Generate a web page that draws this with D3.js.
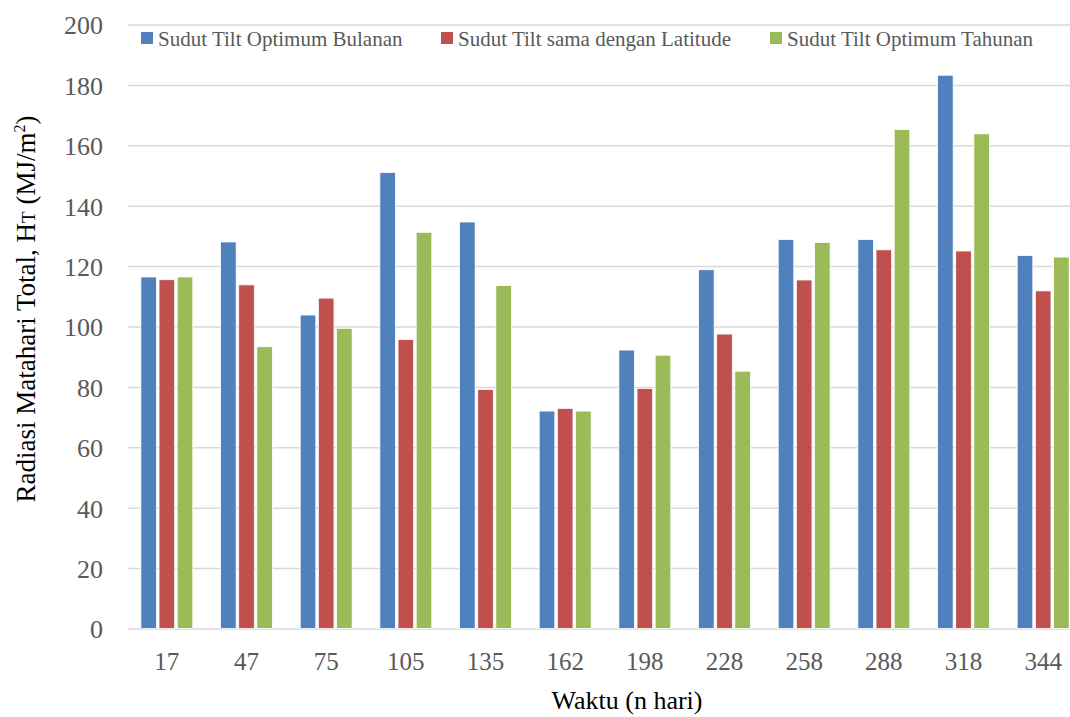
<!DOCTYPE html>
<html>
<head>
<meta charset="utf-8">
<script src="https://cdn.jsdelivr.net/npm/d3@7"></script>
<style>
  html, body { margin: 0; padding: 0; background: #fff; }
  svg { display: block; }
</style>
</head>
<body>
<svg id="chart" width="1070" height="717"></svg>
<script>
// Day-of-year categories (n)
const categories = ["17", "47", "75", "105", "135", "162", "198", "228", "258", "288", "318", "344"];

// Series names
const seriesNames = [
  "Sudut Tilt Optimum Bulanan",
  "Sudut Tilt sama dengan Latitude",
  "Sudut Tilt Optimum Tahunan"
];

// Total solar radiation H_T (MJ/m²) per series
const bulanan  = [116.4, 128.0, 103.8, 151.0, 134.6, 72.0, 92.2, 118.8, 128.8, 128.8, 183.2, 123.5];
const latitude = [115.5, 113.8, 109.4, 95.7, 79.1, 72.9, 79.5, 97.5, 115.4, 125.4, 125.0, 111.8];
const tahunan  = [116.4, 93.3, 99.4, 131.2, 113.6, 72.0, 90.5, 85.2, 127.8, 165.2, 163.8, 123.0];

const yTicks = [0, 20, 40, 60, 80, 100, 120, 140, 160, 180, 200];
const colors = ["#4f81bd", "#c0504d", "#9bbb59"];

const seriesValues = [bulanan, latitude, tahunan];

const svg = d3.select("#chart");
const serif = "'Liberation Serif', 'Times New Roman', serif";

const y = d3.scaleLinear().domain([0, 200]).range([628.5, 24.5]);

const x0 = d3.scaleBand()
  .domain(categories)
  .range([127, 1083])
  .paddingInner(0.348)
  .paddingOuter(0.174);

const x1 = d3.scaleBand()
  .domain(d3.range(seriesNames.length))
  .range([0, x0.bandwidth()])
  .paddingInner(0.14);

// Gridlines and y tick labels
const yAxis = d3.axisLeft(y)
  .tickValues(yTicks)
  .tickSize(-(1070 - 128))
  .tickPadding(25)
  .tickFormat(d3.format("d"));

const gy = svg.append("g")
  .attr("transform", "translate(128,0)")
  .call(yAxis);
gy.select(".domain").remove();
gy.selectAll(".tick line")
  .attr("stroke", "#d9d9d9")
  .attr("stroke-width", 1.5);
gy.selectAll(".tick text")
  .attr("fill", "#595959")
  .attr("font-family", serif)
  .attr("font-size", "26px")
  .attr("dy", "0.36em");

// Bars
const groups = svg.append("g")
  .selectAll("g")
  .data(categories)
  .join("g")
  .attr("transform", d => `translate(${x0(d)},0)`);

groups.selectAll("rect")
  .data((d, i) => seriesValues.map((vals, s) => ({ s, v: vals[i] })))
  .join("rect")
  .attr("x", d => x1(d.s))
  .attr("width", x1.bandwidth())
  .attr("y", d => y(d.v))
  .attr("height", d => y(0) - y(d.v))
  .attr("fill", d => colors[d.s])
  .attr("stroke", "#ffffff")
  .attr("stroke-width", 0.8);

// X axis labels
const xAxis = d3.axisBottom(x0).tickSize(0).tickPadding(0);
const gx = svg.append("g")
  .attr("transform", "translate(0,670)")
  .call(xAxis);
gx.select(".domain").remove();
gx.selectAll(".tick text")
  .attr("fill", "#595959")
  .attr("font-family", serif)
  .attr("font-size", "25px")
  .attr("y", 0)
  .attr("dy", 0);

// Axis titles
svg.append("text")
  .attr("x", 627)
  .attr("y", 709)
  .attr("text-anchor", "middle")
  .attr("font-family", serif)
  .attr("font-size", "26px")
  .attr("fill", "#000")
  .text("Waktu (n hari)");

const yt = svg.append("text")
  .attr("transform", "translate(35,309) rotate(-90)")
  .attr("text-anchor", "middle")
  .attr("font-family", serif)
  .attr("font-size", "27px")
  .attr("fill", "#000");
yt.append("tspan").text("Radiasi Matahari  Total, H");
yt.append("tspan").attr("font-size", "19px").text("T");
yt.append("tspan").text(" (MJ/m");
yt.append("tspan").attr("font-size", "16px").attr("dy", "-10").text("2");
yt.append("tspan").attr("dy", "10").text(")");

// Legend
const legendX = [141, 441, 770];
const legend = svg.append("g")
  .selectAll("g")
  .data(seriesNames)
  .join("g")
  .attr("transform", (d, i) => `translate(${legendX[i]},0)`);
legend.append("rect")
  .attr("x", 0).attr("y", 32)
  .attr("width", 12).attr("height", 12)
  .attr("fill", (d, i) => colors[i]);
legend.append("text")
  .attr("x", 17).attr("y", 46)
  .attr("font-family", serif)
  .attr("font-size", "21px")
  .attr("fill", "#595959")
  .text(d => d);
</script>
</body>
</html>
